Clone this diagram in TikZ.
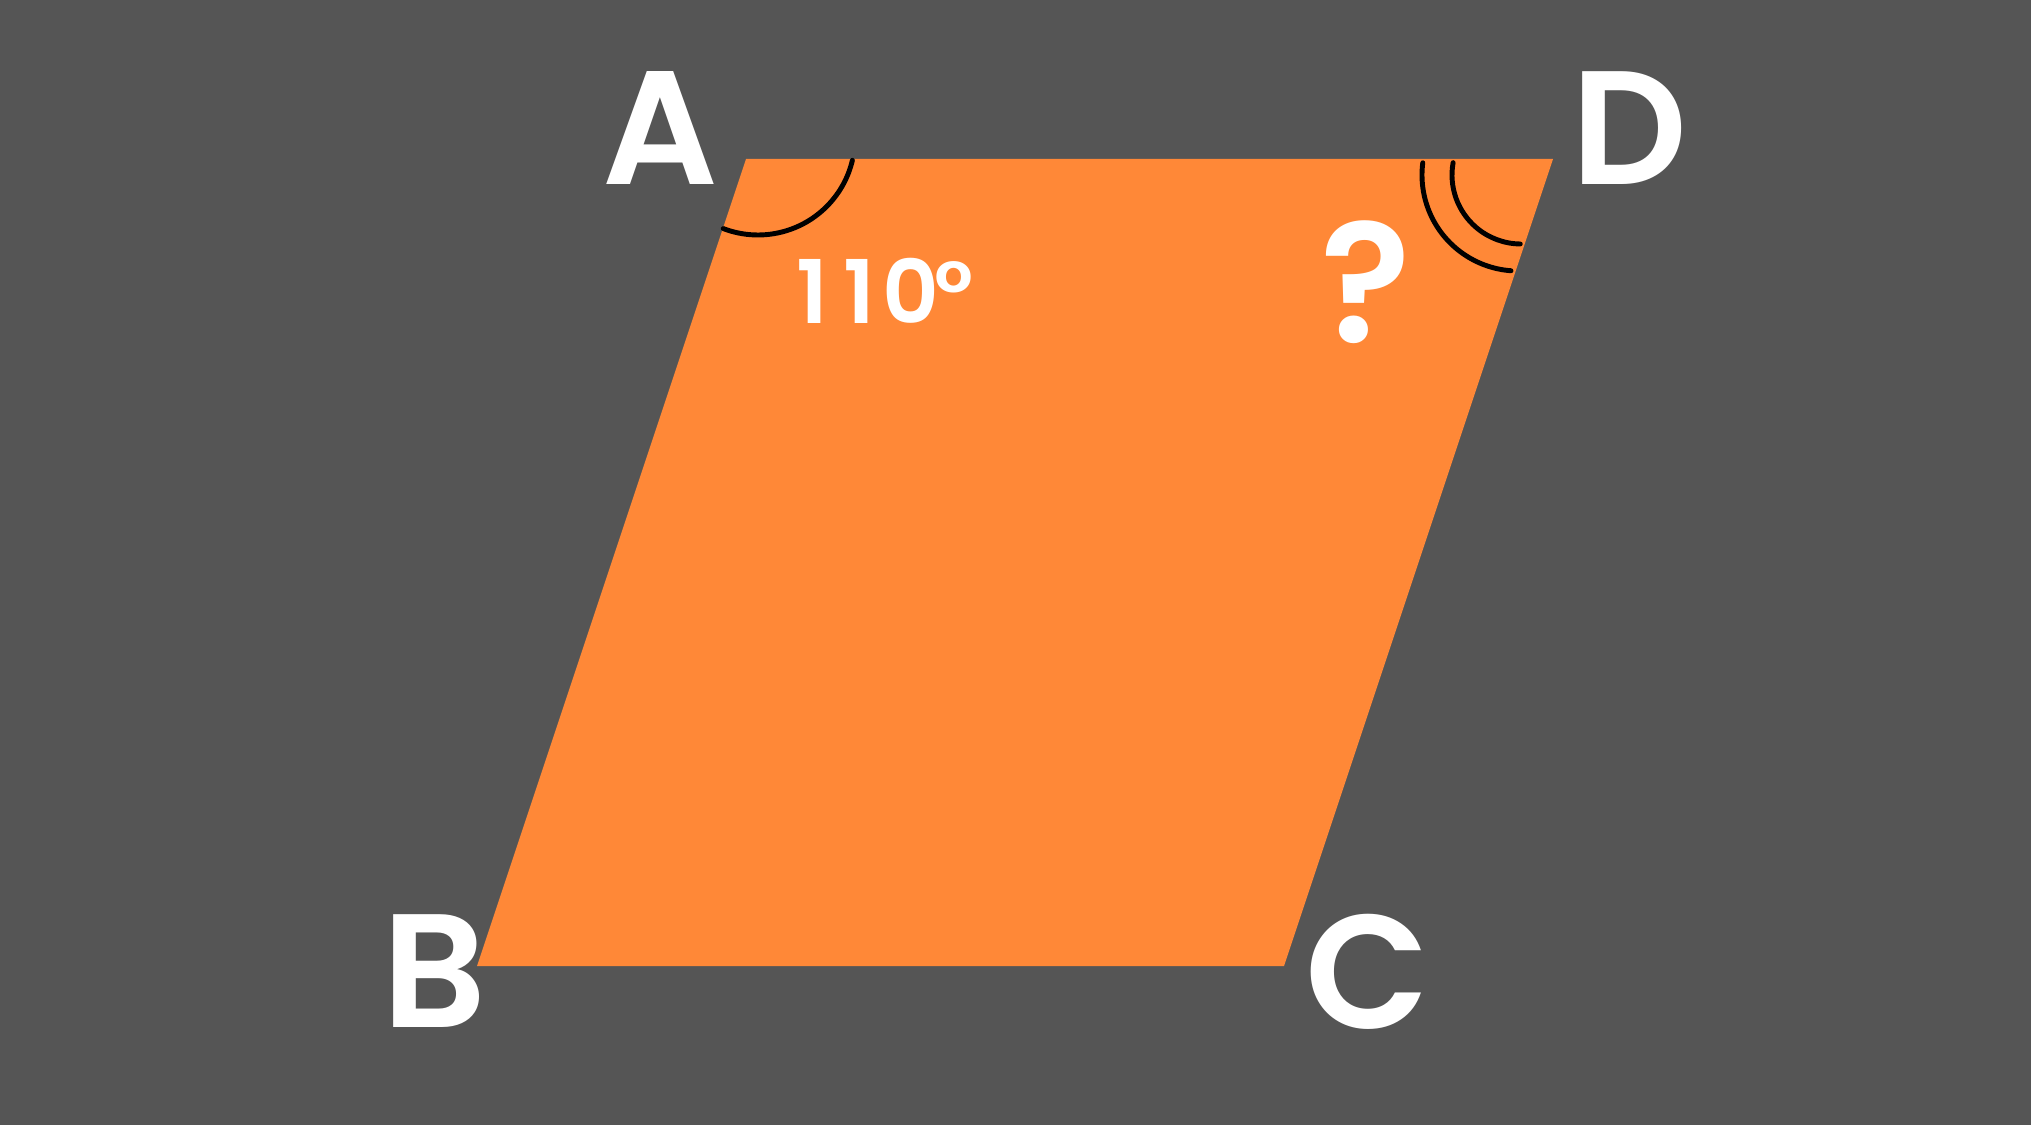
\documentclass[tikz,border=0pt]{standalone}
\usepackage{fontspec}
\setmainfont{Poppins}[BoldFont={Poppins SemiBold}]
\definecolor{slate}{HTML}{555555}
\definecolor{tangerine}{HTML}{FF8837}
\begin{document}
\begin{tikzpicture}
      % Define styles for labels and angle marks
      \tikzstyle{vertex} = [text=white, inner sep=0pt,
      font=\fontsize{46}{46}\selectfont\bfseries]
      \tikzstyle{angletext} = [text=white, inner sep=0pt,
      font=\fontsize{25}{25}\selectfont\bfseries]
      \tikzstyle{asktext} = [text=white, inner sep=0pt,
      font=\fontsize{48}{48}\selectfont\bfseries]
      \tikzstyle{anglearc} = [draw=black, line width=1.4pt, line cap=round]

      % Background
      \fill[slate] (0,0) rectangle (20.31,11.25);

      % Corners of the parallelogram
      \coordinate (A) at (7.46,9.66);
      \coordinate (D) at (15.53,9.66);
      \coordinate (C) at (12.84,1.59);
      \coordinate (B) at (4.77,1.59);
      \fill[tangerine] (A) -- (D) -- (C) -- (B) -- cycle;

      % Angle marks
      \coordinate (arcA) at (7.58,9.87);
      \coordinate (arcD) at (15.18,9.50);
      \coordinate (arcDin) at (15.21,9.50);
      \draw[anglearc] ([shift={(-13.3:0.97)}]arcA)
        arc[start angle=-13.3, end angle=-111, radius=0.97];
      \draw[anglearc] ([shift={(172.7:0.96)}]arcD)
        arc[start angle=172.7, end angle=265.8, radius=0.96];
      \draw[anglearc] ([shift={(169.7:0.69)}]arcDin)
        arc[start angle=169.7, end angle=269.4, radius=0.69];

      % Letters at the corners
      \node[vertex] (labelA) at (6.605,9.97) {A};
      \node[vertex] (labelD) at (16.29,9.97) {D};
      \node[vertex] (labelB) at (4.34,1.535) {B};
      \node[vertex] (labelC) at (13.68,1.53) {C};

      % Angle values
      \node[angletext, anchor=base west] (valA) at (7.96,8.01)
        {1\kern0.15cm1\kern0.07cm0\kern-0.05cm°};
      \node[asktext, anchor=base] (valD) at (13.66,7.82) {?};
\end{tikzpicture}
\end{document}
